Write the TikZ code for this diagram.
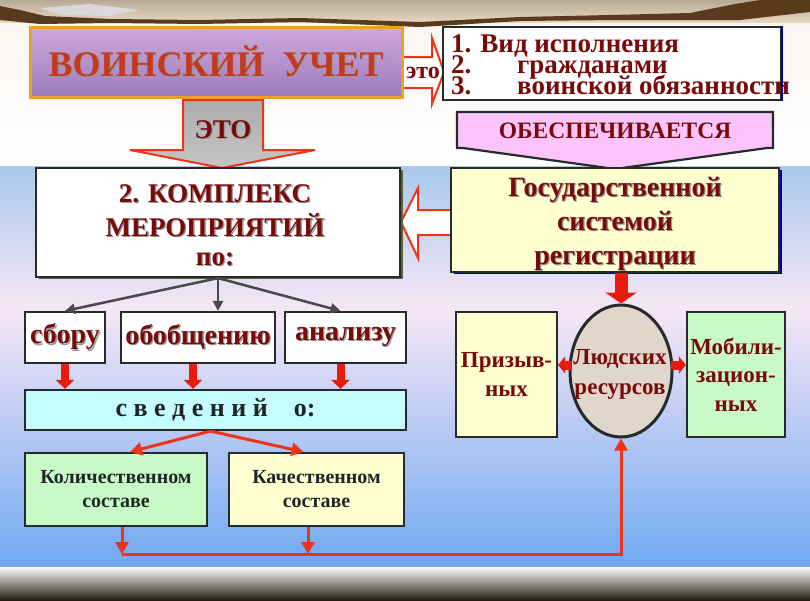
\documentclass[tikz,border=0pt]{standalone}
\usepackage{fontspec}
\setmainfont{Liberation Serif}
\usetikzlibrary{arrows.meta,shapes.geometric,calc,shadows}
\definecolor{dred}{HTML}{780A0A}
\definecolor{tred}{HTML}{C43A1E}
\definecolor{org}{HTML}{F0A020}
\definecolor{arrred}{HTML}{EE3418}
\definecolor{fatred}{HTML}{E81C0E}
\definecolor{bdr}{HTML}{262A2A}
\definecolor{ltyel}{HTML}{FFFFD2}
\definecolor{ltgrn}{HTML}{C8FAC8}
\definecolor{ltcyan}{HTML}{C4FCFF}
\definecolor{pinkb}{HTML}{FCC4FC}
\definecolor{ellc}{HTML}{E0D6CC}
\definecolor{txtd}{HTML}{1E2626}
\definecolor{bgblueA}{HTML}{A8CAEC}
\definecolor{bgpink}{HTML}{F6E6F6}
\definecolor{bgblueB}{HTML}{6EA8F0}
\definecolor{beige}{HTML}{E6D6BC}
\definecolor{tornc}{HTML}{5A3A1C}
\definecolor{lavtop}{HTML}{D0A8DC}
\definecolor{lavmid}{HTML}{F2C8F2}
\definecolor{lavbot}{HTML}{9C7CBC}
\newcommand\fsz[2]{\fontsize{#1}{#2}\selectfont\lineskiplimit=-60pt\relax}
\newcommand\stx[1]{\rlap{\kern1.3pt\raisebox{-1.3pt}{\color{black!40}#1}}#1}
\begin{document}
\begin{tikzpicture}[x=1pt,y=-1pt,
  box/.style={draw=bdr,line width=2.2pt,inner sep=0pt,align=center},
  fatarrow/.style={draw=fatred,line width=8pt,-{Triangle[length=9pt,width=18pt]}},
  bigarrow/.style={draw=fatred,line width=13pt,-{Triangle[length=11pt,width=31pt]}},
  sidearrow/.style={draw=fatred,line width=9pt,-{Triangle[length=7pt,width=17pt]}},
  thinred/.style={draw=arrred,line width=3pt,-{Triangle[length=12pt,width=13pt]}},
  darkarrow/.style={draw=bdr!85,line width=2.5pt,-{Triangle[length=10pt,width=10pt]}},
  outarrow/.style={draw=arrred,line width=2pt,line join=miter},
  ]
\useasboundingbox (0,0) rectangle (810,600);
% ---------- background ----------
\shade[top color=white!92!brown, bottom color=white] (0,0) rectangle (810,166);
\shade[top color=bgblueA, bottom color=bgpink] (0,166) rectangle (810,310);
\shade[top color=bgpink, bottom color=bgblueB] (0,310) rectangle (810,567);
\shade[top color=white, bottom color=black!80!brown] (0,567) rectangle (810,600);
\shade[top color=beige!80!black, bottom color=beige] (0,0) rectangle (810,22);
\fill[tornc] (0,6) -- (20,10) -- (45,16) -- (110,19) -- (200,20) -- (300,18) -- (420,22)
  -- (520,17) -- (610,15) -- (690,13) -- (735,4) -- (760,0) -- (810,0) -- (810,12)
  -- (740,20) -- (620,20) -- (520,21) -- (420,27) -- (300,22) -- (200,24) -- (110,23)
  -- (40,24) -- (0,20) -- cycle;
\fill[white!85!black] (40,8) -- (90,4) -- (140,10) -- (110,16) -- (60,15) -- cycle;

% ---------- top row ----------
\draw[outarrow, fill=white] (402,57) -- (432,57) -- (432,38) -- (444,72) -- (432,104)
  -- (432,88) -- (402,88) -- cycle;
\node[box, draw=org, line width=3pt, top color=lavtop, middle color=lavmid, bottom color=lavbot,
  minimum width=372, minimum height=70, font=\bfseries\fsz{36}{40}, text=tred] (title) at (216,62)
  {\stx{ВОИНСКИЙ\ \ УЧЕТ}};
\node[font=\bfseries\fsz{24}{26}, text=dred, inner sep=0pt] (eto) at (423,73) {это};
\node[box, fill=white, minimum width=338, minimum height=73] (vid) at (612,63.5) {};
\draw[blue!65!black, line width=2.5pt] (vid.north east) -- (vid.south east);
\node[font=\bfseries\fsz{27}{21}, text=dred, inner sep=0pt, anchor=west, align=left] (vidtxt) at (451,65)
  {1. Вид исполнения\\\makebox[66pt][l]{2.}гражданами\\\makebox[66pt][l]{3.}воинской обязанности};

% ---------- ЭТО arrow ----------
\draw[outarrow, top color=gray!65, middle color=white, bottom color=gray!45]
  (183,100) -- (263,100) -- (263,150) -- (315,150) -- (222,168) -- (130,150) -- (183,150) -- cycle;
\node[font=\bfseries\fsz{27}{30}, text=dred, inner sep=0pt] (etoB) at (223,130) {\stx{ЭТО}};

% ---------- ОБЕСПЕЧИВАЕТСЯ ----------
\draw[draw=bdr, line width=2.2pt, fill=pinkb, line join=miter]
  (457,112) -- (773,112) -- (773,148) -- (767,148) -- (615,169) -- (463,148) -- (457,148) -- cycle;
\node[font=\bfseries\fsz{23.5}{25}, text=dred, inner sep=0pt] (obes) at (615,131) {ОБЕСПЕЧИВАЕТСЯ};

% ---------- middle ----------
\draw[outarrow, fill=white] (454,210) -- (418,210) -- (418,188) -- (401,222) -- (418,258)
  -- (418,235) -- (454,235) -- cycle;
\node[box, fill=white, minimum width=364, minimum height=109,
  drop shadow={shadow xshift=3pt, shadow yshift=-2pt, fill=olive!60!black, opacity=1}] (kom) at (218,222.5) {};
\node[font=\bfseries\fsz{27}{34}, text=dred, inner sep=0pt, align=center] (komtxt) at (215,226)
  {\stx{2. КОМПЛЕКС}\\\stx{МЕРОПРИЯТИЙ}\\[-5pt]\stx{по:}};
\node[box, fill=ltyel, minimum width=328, minimum height=104,
  drop shadow={shadow xshift=3pt, shadow yshift=-2pt, fill=blue!60!black, opacity=1}] (gos) at (615,220) {};
\node[font=\bfseries\fsz{28}{34}, text=dred, inner sep=0pt, align=center] (gostxt) at (615,224)
  {\stx{Государственной}\\\stx{системой}\\\stx{регистрации}};

% ---------- left branch ----------
\tikzset{subbox/.style={box, fill=white, minimum height=51, font=\bfseries\fsz{28}{30}, text=dred}}
\node[subbox, minimum width=80] (sb) at (65,337.5) {\stx{сбору}};
\node[subbox, minimum width=154] (ob) at (198,337.5) {\stx{обобщению}};
\node[subbox, minimum width=121] (an) at (345.5,337.5) {\stx{анализу}};
\node[box, fill=ltcyan, minimum width=381, minimum height=40, font=\bfseries\fsz{26}{28}, text=txtd] (sv) at (215.5,410)
  {с в е д е н и й\hspace{26pt}о:};
\node[box, fill=ltgrn, minimum width=182, minimum height=73, font=\bfseries\fsz{20}{24}, text=txtd] (kol) at (116,489.5)
  {Количественном\\составе};
\node[box, fill=ltyel, minimum width=175, minimum height=73, font=\bfseries\fsz{20}{24}, text=txtd] (kach) at (316.5,489.5)
  {Качественном\\составе};

\draw[darkarrow] (kom.south) -- (sb.north);
\draw[darkarrow] (kom.south) -- (kom.south |- ob.north);
\draw[darkarrow] (kom.south) -- ($(an.north)+(-5,0)$);
\draw[fatarrow] (sb.south) -- (sb.south |- sv.north);
\draw[fatarrow] ($(ob.south)+(-5,0)$) -- ($(ob.south |- sv.north)+(-5,0)$);
\draw[fatarrow] ($(an.south)+(-5,0)$) -- ($(an.south |- sv.north)+(-5,0)$);
\draw[thinred] ($(sv.south)+(-5,0)$) -- ($(kol.north)+(14,0)$);
\draw[thinred] ($(sv.south)+(-5,0)$) -- ($(kach.north)+(-13,0)$);

% ---------- right branch ----------
\node[box, fill=ltyel, minimum width=101, minimum height=125, font=\bfseries\fsz{23}{29}, text=dred] (pr) at (506.5,374.5)
  {Призыв-\\ных};
\node[box, fill=ltgrn, minimum width=98, minimum height=125, font=\bfseries\fsz{23}{28.5}, text=dred] (mob) at (736,374.5)
  {Мобили-\\зацион-\\ных};
\node[draw=bdr, line width=3pt, ellipse, fill=ellc, inner sep=0pt,
  minimum width=102, minimum height=132] (ell) at (621,371) {};
\draw[sidearrow] ($(ell.west)+(3,-6)$) -- ($(pr.east |- ell.west)+(0,-6)$);
\draw[sidearrow] ($(ell.east)+(-3,-6)$) -- ($(mob.west |- ell.east)+(0,-6)$);
\node[font=\bfseries\fsz{23}{30}, text=dred, inner sep=0pt, align=center] (elltxt) at (620,374)
  {Людских\\ресурсов};
\draw[bigarrow] (ell.north |- gos.south) -- (ell.north);

% ---------- bottom bus ----------
\coordinate (busL) at (122,554);
\coordinate (busM) at (308,554);
\coordinate (busR) at (621,554);
\draw[thinred] (busL |- kol.south) -- (busL);
\draw[thinred] (busM |- kach.south) -- (busM);
\draw[thinred] (busL) -- (busR) -- (ell.south);
\end{tikzpicture}
\end{document}
